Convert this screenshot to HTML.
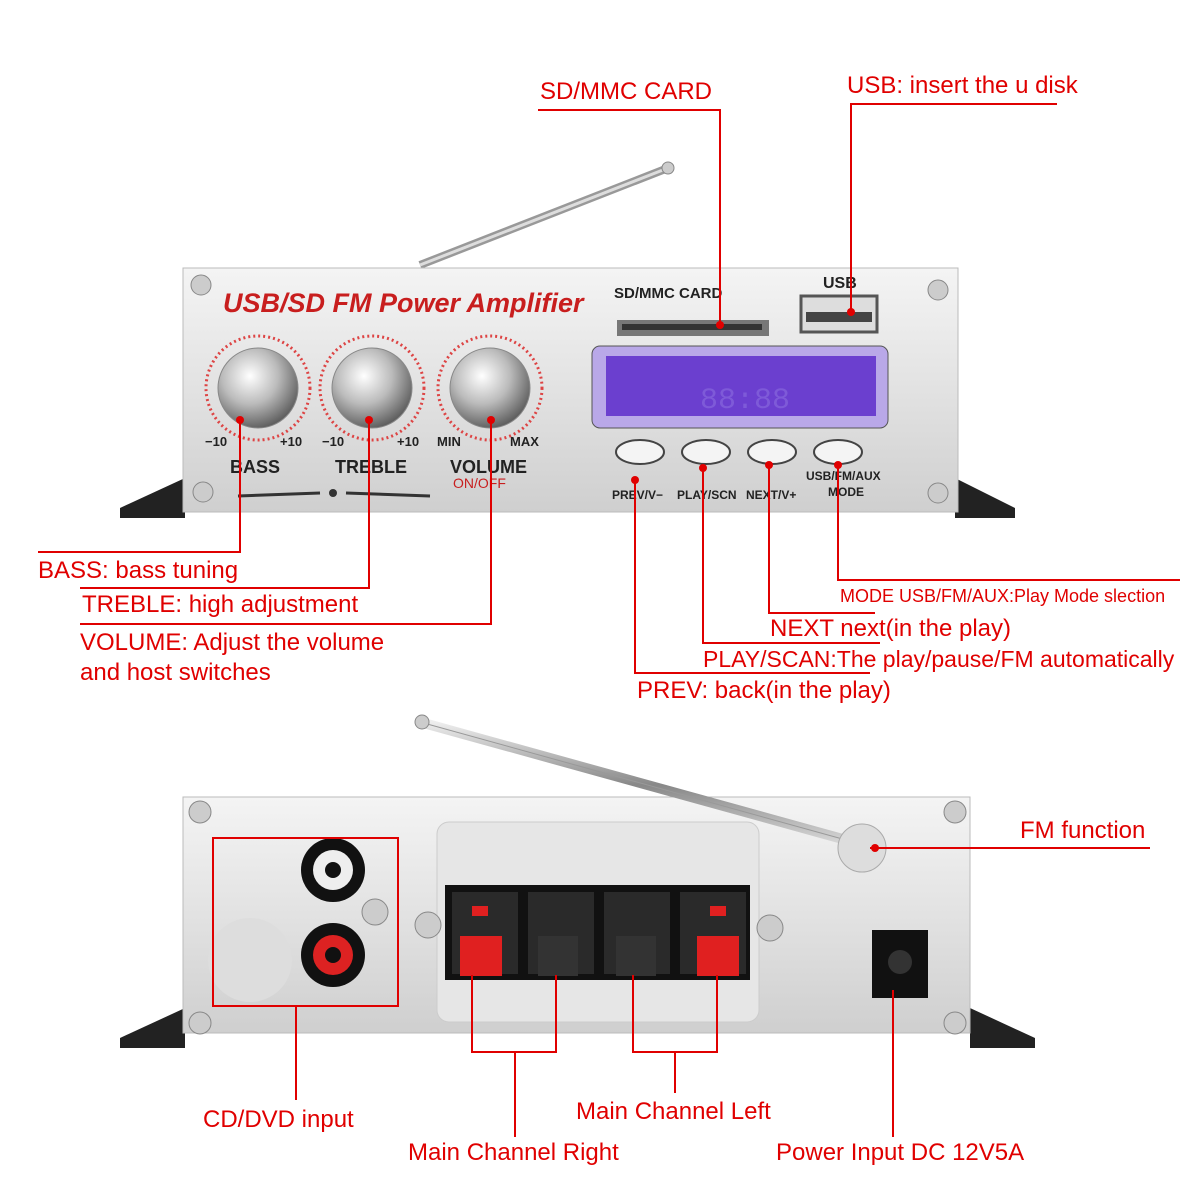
<!DOCTYPE html>
<html><head><meta charset="utf-8"><style>
body{margin:0;width:1200px;height:1200px;background:#fff;position:relative;overflow:hidden;font-family:"Liberation Sans",sans-serif}
.t{position:absolute;color:#e00000;font-size:24px;white-space:nowrap;line-height:1}
svg{position:absolute;left:0;top:0}
</style></head><body>
<svg width="1200" height="1200" viewBox="0 0 1200 1200">
<defs>
<linearGradient id="sil" x1="0" y1="0" x2="0" y2="1"><stop offset="0" stop-color="#f4f4f4"/><stop offset="0.5" stop-color="#e2e2e2"/><stop offset="1" stop-color="#cfcfcf"/></linearGradient>
<radialGradient id="knob" cx="0.4" cy="0.35" r="0.7"><stop offset="0" stop-color="#fff"/><stop offset="0.5" stop-color="#bbb"/><stop offset="1" stop-color="#555"/></radialGradient>
<linearGradient id="ant" x1="0" y1="0" x2="0" y2="1"><stop offset="0" stop-color="#eee"/><stop offset="0.5" stop-color="#888"/><stop offset="1" stop-color="#ddd"/></linearGradient>
</defs>
<line x1="420" y1="265" x2="668" y2="168" stroke="#999" stroke-width="8"/>
<line x1="420" y1="265" x2="668" y2="168" stroke="#ddd" stroke-width="3"/>
<polygon points="120,508 185,478 185,518 120,518" fill="#222"/>
<polygon points="1015,508 955,478 955,518 1015,518" fill="#222"/>
<rect x="183" y="268" width="775" height="244" fill="url(#sil)" stroke="#bbb"/>
<text x="223" y="312" font-size="27" font-weight="bold" font-style="italic" fill="#c81e1e" font-family="Liberation Sans">USB/SD  FM  Power  Amplifier</text>
<g fill="url(#knob)" stroke="#888">
<circle cx="258" cy="388" r="40"/><circle cx="372" cy="388" r="40"/><circle cx="490" cy="388" r="40"/></g>
<g fill="none" stroke="#d44" stroke-dasharray="2 3" stroke-width="3">
<circle cx="258" cy="388" r="52"/><circle cx="372" cy="388" r="52"/><circle cx="490" cy="388" r="52"/></g>
<g font-size="13" font-weight="bold" fill="#222" font-family="Liberation Sans">
<text x="205" y="446">−10</text><text x="280" y="446">+10</text><text x="322" y="446">−10</text><text x="397" y="446">+10</text><text x="437" y="446">MIN</text><text x="510" y="446">MAX</text>
<text x="230" y="473" font-size="18">BASS</text><text x="335" y="473" font-size="18">TREBLE</text><text x="450" y="473" font-size="18">VOLUME</text>
<text x="614" y="298" font-size="15">SD/MMC CARD</text><text x="823" y="288" font-size="16">USB</text>
<text x="612" y="499" font-size="12">PREV/V−</text><text x="677" y="499" font-size="12">PLAY/SCN</text><text x="746" y="499" font-size="12">NEXT/V+</text>
<text x="806" y="480" font-size="12">USB/FM/AUX</text><text x="828" y="496" font-size="12">MODE</text></g>
<text x="453" y="488" font-size="14" fill="#c81e1e">ON/OFF</text>
<line x1="238" y1="496" x2="320" y2="493" stroke="#333" stroke-width="3"/><circle cx="333" cy="493" r="4" fill="#333"/><line x1="346" y1="493" x2="430" y2="496" stroke="#333" stroke-width="3"/>
<rect x="617" y="320" width="152" height="16" fill="#777"/><rect x="622" y="324" width="140" height="6" fill="#333"/>
<rect x="801" y="296" width="76" height="36" fill="#ddd" stroke="#555" stroke-width="3"/><rect x="806" y="312" width="66" height="10" fill="#444"/>
<rect x="592" y="346" width="296" height="82" rx="8" fill="#b9a8e8" stroke="#555"/>
<rect x="606" y="356" width="270" height="60" fill="#6b3fcf"/>
<text x="700" y="408" font-size="30" fill="#7e5ad8" font-family="Liberation Mono">88:88</text>
<g fill="#f4f4f4" stroke="#444" stroke-width="2">
<ellipse cx="640" cy="452" rx="24" ry="12"/><ellipse cx="706" cy="452" rx="24" ry="12"/><ellipse cx="772" cy="452" rx="24" ry="12"/><ellipse cx="838" cy="452" rx="24" ry="12"/></g>
<g fill="#ccc" stroke="#888"><circle cx="201" cy="285" r="10"/><circle cx="938" cy="290" r="10"/><circle cx="203" cy="492" r="10"/><circle cx="938" cy="493" r="10"/></g>
<polygon points="120,1038 185,1008 185,1048 120,1048" fill="#222"/>
<polygon points="1035,1038 970,1008 970,1048 1035,1048" fill="#222"/>
<rect x="183" y="797" width="787" height="236" fill="url(#sil)" stroke="#bbb"/>
<rect x="437" y="822" width="322" height="200" rx="12" fill="#e6e6e6" stroke="#ccc"/>
<circle cx="250" cy="960" r="42" fill="#ddd"/>
<g fill="#ccc" stroke="#888"><circle cx="200" cy="812" r="11"/><circle cx="955" cy="812" r="11"/><circle cx="200" cy="1023" r="11"/><circle cx="955" cy="1023" r="11"/><circle cx="375" cy="912" r="13"/><circle cx="428" cy="925" r="13"/><circle cx="770" cy="928" r="13"/></g>
<circle cx="333" cy="870" r="32" fill="#111"/><circle cx="333" cy="870" r="20" fill="#eee"/><circle cx="333" cy="870" r="8" fill="#111"/>
<circle cx="333" cy="955" r="32" fill="#111"/><circle cx="333" cy="955" r="20" fill="#d22"/><circle cx="333" cy="955" r="8" fill="#111"/>
<rect x="445" y="885" width="305" height="95" fill="#111"/>
<g fill="#2a2a2a"><rect x="452" y="892" width="66" height="82"/><rect x="528" y="892" width="66" height="82"/><rect x="604" y="892" width="66" height="82"/><rect x="680" y="892" width="66" height="82"/></g>
<g fill="#e02020"><rect x="460" y="936" width="42" height="40"/><rect x="697" y="936" width="42" height="40"/><rect x="472" y="906" width="16" height="10"/><rect x="710" y="906" width="16" height="10"/></g>
<g fill="#333"><rect x="538" y="936" width="40" height="40"/><rect x="616" y="936" width="40" height="40"/></g>
<rect x="872" y="930" width="56" height="68" fill="#111"/><circle cx="900" cy="962" r="12" fill="#333"/>
<line x1="420" y1="722" x2="875" y2="848" stroke="url(#ant)" stroke-width="10"/>
<line x1="420" y1="722" x2="875" y2="848" stroke="#999" stroke-width="1"/>
<circle cx="862" cy="848" r="24" fill="#ddd" stroke="#aaa"/>
<circle cx="422" cy="722" r="7" fill="#ccc" stroke="#888"/>
<circle cx="668" cy="168" r="6" fill="#ccc" stroke="#888"/>
<g stroke="#e00000" stroke-width="2" fill="none">
<polyline points="538,110 720,110 720,325"/>
<polyline points="1057,104 851,104 851,312"/>
<polyline points="38,552 240,552 240,420"/>
<polyline points="80,588 369,588 369,420"/>
<polyline points="80,624 491,624 491,420"/>
<polyline points="1180,580 838,580 838,465"/>
<polyline points="875,613 769,613 769,465"/>
<polyline points="880,643 703,643 703,465"/>
<polyline points="870,673 635,673 635,480"/>
<rect x="213" y="838" width="185" height="168"/>
<line x1="296" y1="1006" x2="296" y2="1100"/>
<polyline points="472,975 472,1052 556,1052 556,975"/>
<line x1="515" y1="1052" x2="515" y2="1137"/>
<polyline points="633,975 633,1052 717,1052 717,975"/>
<line x1="675" y1="1052" x2="675" y2="1093"/>
<line x1="893" y1="990" x2="893" y2="1137"/>
<line x1="870" y1="848" x2="1150" y2="848"/>
</g>
<g fill="#e00000"><circle cx="720" cy="325" r="4"/><circle cx="851" cy="312" r="4"/><circle cx="240" cy="420" r="4"/><circle cx="369" cy="420" r="4"/><circle cx="491" cy="420" r="4"/><circle cx="838" cy="465" r="4"/><circle cx="769" cy="465" r="4"/><circle cx="703" cy="468" r="4"/><circle cx="635" cy="480" r="4"/><circle cx="875" cy="848" r="4"/></g>
</svg>
<div class="t" style="left:540px;top:80px">SD/MMC CARD</div>
<div class="t" style="left:847px;top:74px">USB: insert the u disk</div>
<div class="t" style="left:38px;top:559px">BASS: bass tuning</div>
<div class="t" style="left:82px;top:593px">TREBLE: high adjustment</div>
<div class="t" style="left:80px;top:631px">VOLUME: Adjust the volume</div>
<div class="t" style="left:80px;top:661px">and host switches</div>
<div class="t" style="left:840px;top:587px;font-size:18px">MODE USB/FM/AUX:Play Mode slection</div>
<div class="t" style="left:770px;top:617px">NEXT next(in the play)</div>
<div class="t" style="left:703px;top:648px;font-size:23px">PLAY/SCAN:The play/pause/FM automatically</div>
<div class="t" style="left:637px;top:679px">PREV: back(in the play)</div>
<div class="t" style="left:1020px;top:819px">FM function</div>
<div class="t" style="left:203px;top:1108px">CD/DVD input</div>
<div class="t" style="left:576px;top:1100px">Main Channel Left</div>
<div class="t" style="left:408px;top:1141px">Main Channel Right</div>
<div class="t" style="left:776px;top:1141px">Power Input DC 12V5A</div>
</body></html>
